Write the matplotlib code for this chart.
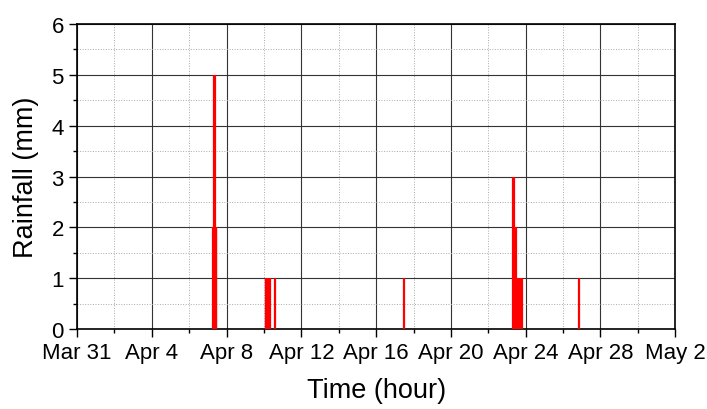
import pandas as pd
import matplotlib.pyplot as plt
import matplotlib.dates as mdates

plt.rcParams['font.family'] = ['Liberation Sans', 'DejaVu Sans']

# hourly rainfall (only non-zero hours)
times = [
    "2015-04-07 07:00", "2015-04-07 08:00", "2015-04-07 09:00", "2015-04-07 10:00",
    "2015-04-07 11:00",
    "2015-04-10 02:00", "2015-04-10 03:00", "2015-04-10 05:00", "2015-04-10 07:00",
    "2015-04-10 08:00", "2015-04-10 14:00",
    "2015-04-17 12:00",
    "2015-04-23 08:00", "2015-04-23 09:00", "2015-04-23 10:00", "2015-04-23 11:00",
    "2015-04-23 13:00", "2015-04-23 14:00", "2015-04-23 15:00", "2015-04-23 16:00",
    "2015-04-23 17:00", "2015-04-23 18:00", "2015-04-23 19:00",
    "2015-04-26 20:00",
]
rain = [2, 5, 5, 2,
        2,
        1, 1, 1, 1,
        1, 1,
        1,
        3, 3, 2, 2,
        1, 1, 1, 1,
        1, 1, 1,
        1]

t = pd.to_datetime(times)

major_days = pd.date_range("2015-03-31", "2015-05-02", freq="4D")
minor_days = pd.date_range("2015-04-02", "2015-05-02", freq="4D")

fig = plt.figure(figsize=(7.07, 4.10), dpi=100)
ax = fig.add_axes([0.109, 0.195, 0.846, 0.744])

ax.vlines(t, 0, rain, color="red", linewidth=1.6, zorder=3)

ax.set_xlim(pd.Timestamp("2015-03-31"), pd.Timestamp("2015-05-02"))
ax.set_ylim(0, 6)
ax.set_xticks(major_days)
ax.set_xticks(minor_days, minor=True)
ax.xaxis.set_major_formatter(mdates.DateFormatter("%b %-d"))
ax.set_yticks(range(0, 7))
ax.set_yticks([0.5, 1.5, 2.5, 3.5, 4.5, 5.5], minor=True)

ax.grid(which="major", color="#333333", linewidth=0.8, linestyle="-")
ax.grid(which="minor", color="#aaaaaa", linewidth=0.7, linestyle=":")
ax.set_axisbelow(True)

ax.tick_params(which="major", direction="out", length=6, width=1, labelsize=16)
ax.tick_params(which="minor", direction="out", length=3, width=1)
for s in ax.spines.values():
    s.set_linewidth(1.2)

ax.set_xlabel("Time (hour)", fontsize=19.5, labelpad=10)
ax.set_ylabel("Rainfall (mm)", fontsize=19.5, labelpad=9)

plt.savefig("out.png", dpi=100)
